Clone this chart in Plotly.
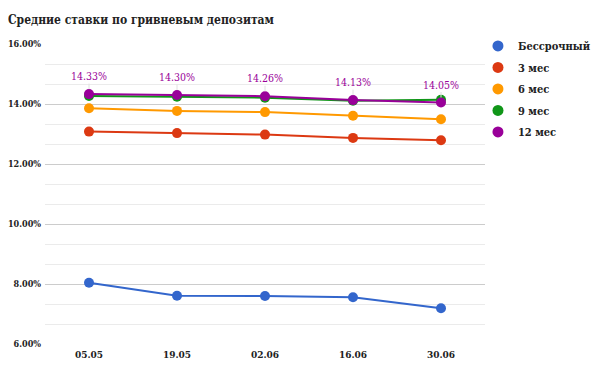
import plotly.graph_objects as go

dates = ["05.05", "19.05", "02.06", "16.06", "30.06"]
series_names = ["Бессрочный", "3 мес", "6 мес", "9 мес", "12 мес"]
bessrochny = [8.04, 7.61, 7.60, 7.56, 7.19]
m3 = [13.08, 13.03, 12.98, 12.87, 12.79]
m6 = [13.86, 13.77, 13.73, 13.61, 13.49]
m9 = [14.27, 14.24, 14.21, 14.11, 14.14]
m12 = [14.33, 14.30, 14.26, 14.13, 14.05]
y_ticks = [6, 8, 10, 12, 14, 16]
y_tick_labels = ["6.00%", "8.00%", "10.00%", "12.00%", "14.00%", "16.00%"]
colors = ["#3366cc", "#dc3912", "#ff9900", "#109618", "#990099"]
title = "Средние ставки по гривневым депозитам"

font_family = "DejaVu Serif Condensed, DejaVu Serif"
fig = go.Figure()
all_series = [bessrochny, m3, m6, m9, m12]
for name, vals, c in zip(series_names, all_series, colors):
    fig.add_trace(go.Scatter(
        x=dates, y=vals, mode="lines+markers", name=name,
        line=dict(color=c, width=2), marker=dict(color=c, size=10),
        showlegend=False, hoverinfo="x+y"))
for name, c in zip(series_names, colors):
    fig.add_trace(go.Scatter(
        x=[None], y=[None], mode="markers", name=name, legendgroup=name,
        marker=dict(color=c, size=11), showlegend=True))

for i, v in enumerate(m12):
    fig.add_annotation(x=i, y=v, text=f"{v:.2f}%", showarrow=True,
                       arrowhead=0, arrowwidth=1, arrowcolor="#e0e0e0",
                       ax=0, ay=-18, standoff=5,
                       font=dict(family=font_family, size=10.5, color="#990099"))

fig.update_layout(
    width=600, height=380,
    margin=dict(l=37, r=123, t=36, b=44, autoexpand=False),
    paper_bgcolor="white", plot_bgcolor="white",
    title=dict(text="<b>" + title + "</b>", x=0.0, xanchor="left",
               y=0.97, yanchor="middle", pad=dict(l=0),
               font=dict(family=font_family, size=12, color="#222")),
    legend=dict(x=0.984, y=1.042, xanchor="left", yanchor="top",
                font=dict(family=font_family, size=11, color="#222", weight="bold"),
                tracegroupgap=2.5, itemwidth=30, bgcolor="rgba(0,0,0,0)"),
    showlegend=True,
)
fig.update_xaxes(type="category", range=[-0.5, 4.5], showgrid=False,
                 showline=False, ticks="", automargin=False, ticklabelstandoff=3,
                 tickfont=dict(family=font_family, size=10, color="#222", weight="bold"))
fig.update_yaxes(range=[6, 16], tickvals=y_ticks, ticktext=y_tick_labels,
                 showgrid=True, gridcolor="#cccccc", gridwidth=1,
                 zeroline=False, showline=False, automargin=False, ticklabelstandoff=3,
                 minor=dict(dtick=2/3, tick0=6, showgrid=True, gridcolor="#ebebeb"),
                 tickfont=dict(family=font_family, size=9, color="#222", weight="bold"))

fig.write_html("out.html")
